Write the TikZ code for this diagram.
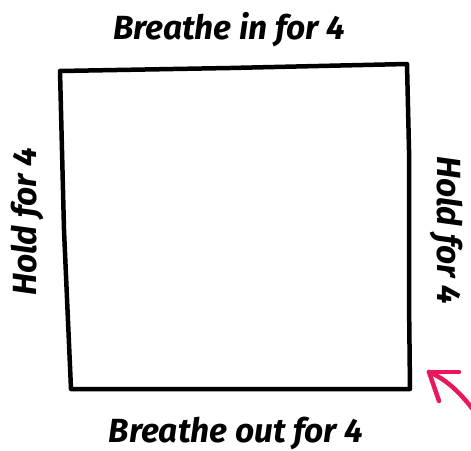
\documentclass[tikz,border=0pt]{standalone}
\usepackage{fontspec}
\setmainfont{Fira Sans}
\definecolor{arrowpink}{HTML}{E8185A}
\tikzset{
  side/.style={line width=4.5pt,line cap=round,line join=round},
  steplabel/.style={font=\bfseries\itshape\fontsize{33.5}{37}\selectfont,inner sep=0pt},
  pinkline/.style={arrowpink,line width=4.5pt,line cap=round}
}
\begin{document}
\begin{tikzpicture}[x=1pt,y=-1pt]
    \useasboundingbox (0,0) rectangle (471,450);
    % the box
    \coordinate (tl) at (60,71);
    \coordinate (tr) at (407,64);
    \coordinate (br) at (410,389);
    \coordinate (bl) at (71,389);
    \draw[side] (tl) -- (230,68) -- (tr) -- (409,150) -- (409,300) -- (br) -- (240,389) -- (bl)
      -- (64,230) -- cycle;
    % labels
    \node[steplabel] (inlbl) at (229,30) {Breathe in for 4};
    \node[steplabel] (outlbl) at (236,433) {Breathe out for 4};
    \node[steplabel,rotate=90] (holdl) at (28,222) {Hold for 4};
    \node[steplabel,rotate=-90] (holdr) at (446,230) {Hold for 4};
    % pointer
    \coordinate (tip) at (429,372);
    \draw[pinkline] (tip) -- (459,372);
    \draw[pinkline] (tip) -- (439,401);
    \draw[pinkline] (tip) .. controls (448,380) and (462,395) .. (475,412);
\end{tikzpicture}
\end{document}
